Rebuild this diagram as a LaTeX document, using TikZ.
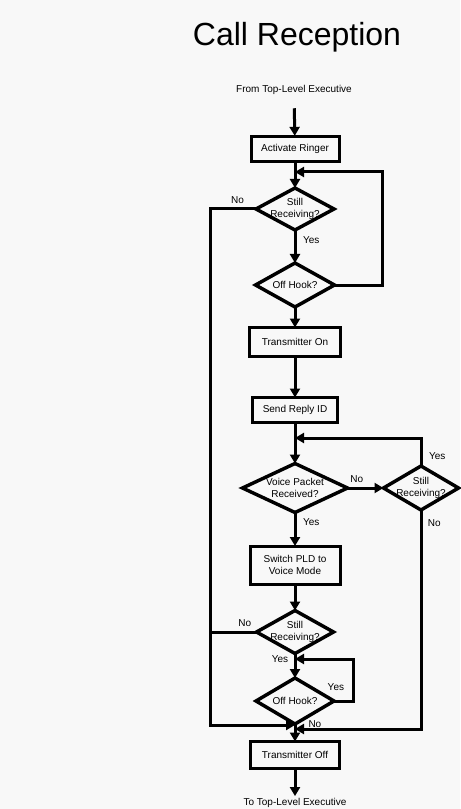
\documentclass[tikz,border=0pt]{standalone}
\usepackage{fontspec}
\setmainfont{Liberation Sans}
\usetikzlibrary{shapes.geometric,arrows.meta}
\definecolor{bg}{RGB}{248,248,248}

\begin{document}
\begin{tikzpicture}[
	x=0.75pt, y=-0.75pt,
	box/.style={
		draw, line width=2.25pt, rectangle, outer sep=0pt,
		font=\fontsize{7.5}{9.5}\selectfont, align=center, inner sep=0pt
	},
	dec/.style={
		draw, line width=2.6pt, diamond, aspect=2, outer sep=0pt,
		inner xsep=-8pt, inner ysep=0pt,
		font=\fontsize{7.5}{9}\selectfont, align=center
	},
	edge/.style={-{Triangle[length=6.75pt, width=7.5pt]}, line width=2.25pt},
	line/.style={line width=2.25pt},
	lbl/.style={font=\fontsize{7.5}{9}\selectfont, inner sep=1pt},
	txt/.style={font=\fontsize{7.5}{9}\selectfont, inner sep=1pt},
	]
	
	\fill[bg] (0,0) rectangle (460,809);
	\useasboundingbox (0,0) rectangle (460,809);
	
	\node[font=\fontsize{24}{28}\selectfont] (title) at (297, 37) {Call Reception};
	\node[txt] (from) at (294, 90) {From Top-Level Executive};
	
	\node[box, minimum width=66pt, minimum height=18.75pt]    (ring)   at (295, 149) {Activate Ringer};
	\node[dec, minimum width=58.5pt, minimum height=31.5pt]   (still1) at (295, 209) {Still\\Receiving?};
	\node[dec, minimum width=59.25pt, minimum height=33pt]    (hook1)  at (295, 285) {Off Hook?};
	\node[box, minimum width=68.25pt, minimum height=21.75pt] (txon)   at (295, 342) {Transmitter On};
	\node[box, minimum width=63.75pt, minimum height=18.75pt] (reply)  at (295, 410) {Send Reply ID};
	\node[dec, minimum width=78.75pt, minimum height=36.75pt] (voice)  at (295, 488) {Voice Packet\\Received?};
	\node[dec, minimum width=56.25pt, minimum height=33pt]    (still2) at (421, 488) {Still\\Receiving?};
	\node[box, minimum width=67.5pt, minimum height=28.5pt]   (pld)    at (295, 565) {Switch PLD to\\Voice Mode};
	\node[dec, minimum width=57.75pt, minimum height=32.25pt] (still3) at (295, 632) {Still\\Receiving?};
	\node[dec, minimum width=58.5pt, minimum height=34.5pt]   (hook2)  at (295, 701) {Off Hook?};
	\node[box, minimum width=66.75pt, minimum height=20.25pt] (txoff)  at (295, 755) {Transmitter Off};
	\node[txt] (to) at (295, 803) {To Top-Level Executive};
	
	\coordinate (j1) at (295, 172);
	\coordinate (j2) at (295, 438);
	\coordinate (j3) at (295, 659);
	\coordinate (j4) at (295, 725);
	\coordinate (j5) at (295, 729);
	\coordinate (lcorner) at (210, 209);
	
	\draw[edge, shorten <=9pt, shorten >=0.5pt] (from) -- (ring);
	\draw[edge] (ring) -- (still1);
	\draw[edge] (still1) to node[lbl, pos=0.3, right=4pt] {Yes} (hook1);
	\draw[edge] (hook1.east) -- ++(48,0) |- (j1);
	\draw[edge] (still1.west) -- node[lbl, pos=0.4, above=2pt] {No} (lcorner) |- (j4);
	\draw[edge] (hook1) -- (txon);
	\draw[edge] (txon) -- (reply);
	\draw[edge] (reply) -- (voice);
	\draw[edge] (voice) to node[lbl, pos=0.26, above=2pt] {No} (still2);
	\draw[edge] (still2.north) |- node[lbl, pos=0.18, right=4pt] {Yes} (j2);
	\draw[edge] (still2.south) |- node[lbl, pos=0.03, right=3pt] {No} (j5);
	\draw[edge] (voice) to node[lbl, pos=0.28, right=4pt] {Yes} (pld);
	\draw[edge] (pld) -- (still3);
	\draw[line] (still3.west) -- node[lbl, pos=0.25, above=2pt] {No} (still3.west -| lcorner);
	\draw[edge] (still3) to node[lbl, pos=0.22, left=3pt] {Yes} (hook2);
	\draw[edge] (hook2.east) -- node[lbl, pos=0.1, above=5.5pt] {Yes} ++(19,0) |- (j3);
	\draw[edge] (hook2) to node[lbl, pos=0, right=8pt] {No} (txoff);
	\draw[edge, shorten >=0.5pt] (txoff) -- (to);
	
\end{tikzpicture}
\end{document}
